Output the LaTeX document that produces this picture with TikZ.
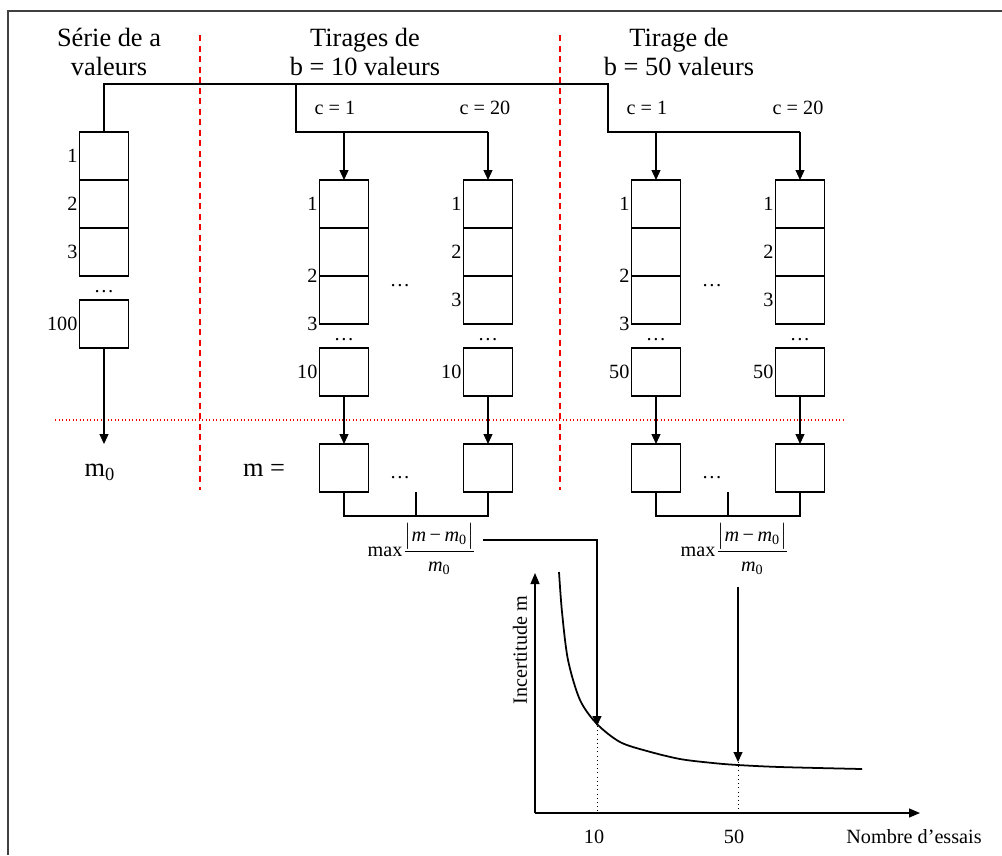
\documentclass[tikz,border=0pt]{standalone}
\usepackage{amsmath}
\usepackage{fontspec}
\setmainfont{Liberation Serif}
\usetikzlibrary{arrows.meta,positioning}
\tikzset{
  cell/.style={draw, line width=0.6pt, minimum width=9.8mm, minimum height=9.6mm,
    inner sep=0pt, outer sep=0pt},
  num/.style={font=\fontsize{11.5}{13}\selectfont, inner sep=1pt, anchor=east},
  small/.style={font=\fontsize{11.5}{13}\selectfont, inner sep=1pt},
  ttl/.style={font=\fontsize{15}{17}\selectfont, align=center},
  big/.style={font=\fontsize{15}{17}\selectfont},
  conn/.style={line width=0.6pt},
  arr/.style={conn, -{Triangle[length=2mm,width=1.8mm]}},
  sep/.style={draw=red!95!black, line width=0.9pt, dash pattern=on 1.2mm off 0.9mm},
  sepdot/.style={draw=red!95!black, line width=0.6pt, dash pattern=on 0.25mm off 0.45mm},
  guide/.style={line width=0.4pt, dotted},
  axis/.style={line width=0.7pt, -{Triangle[length=2.2mm,width=1.8mm]}},
  frame/.style={draw=black!75, line width=0.9pt}
}
\newcommand{\maxrel}{max$\dfrac{\bigl|\textit{m}\,−\,\textit{m}_{\text{0}}\bigr|}{\textit{m}_{\text{0}}}$}
\begin{document}
\begin{tikzpicture}[x=0.2mm, y=-0.2mm]
  \useasboundingbox (0,0) rectangle (1002,855);
  \draw[frame] (1002,11) -- (8,11) -- (8,855);

  % separators
  \draw[sep] (200,35) -- (200,490);
  \draw[sep] (560,35) -- (560,490);
  \draw[sepdot] (55,420) -- (845,420);

  % titles
  \node[ttl] (t0) at (109,52) {S\'erie de a\\valeurs};
  \node[ttl] (t10) at (365,52) {Tirages de\\b = 10 valeurs};
  \node[ttl] (t50) at (679,52) {Tirage de\\b = 50 valeurs};
  \node[small] (c10a) at (335,108) {c = 1};
  \node[small] (c10b) at (485,108) {c = 20};
  \node[small] (c50a) at (647,108) {c = 1};
  \node[small] (c50b) at (798,108) {c = 20};

  % serie of a values
  \node[cell] (a-1) at (104,156) {};
  \node[cell, below=0pt of a-1] (a-2) {};
  \node[cell, below=0pt of a-2] (a-3) {};
  \node[small] (a-dots) at (104,292) {\dots};
  \node[cell] (a-n) at (104,324) {};
  \node[num] at (a-1.west) {1};
  \node[num] at (a-2.west) {2};
  \node[num] at (a-3.west) {3};
  \node[num] at (a-n.west) {100};
  \coordinate (a-end) at (104,444);
  \draw[arr] (a-n.south) -- (a-end);
  \node[big] (m0) at (100,472) {m$_{\text{0}}$};

  % draws
  \foreach \nm/\x/\n/\ab in {p1/344/10/south west, p2/488/10/west,
                             q1/656/50/south west, q2/800/50/west} {
    \node[cell] (\nm-1) at (\x,204) {};
    \node[cell, below=0pt of \nm-1] (\nm-2) {};
    \node[cell, below=0pt of \nm-2] (\nm-3) {};
    \node[small] (\nm-dots) at (\x,340) {\dots};
    \node[cell] (\nm-n) at (\x,372) {};
    \node[cell] (\nm-m) at (\x,468) {};
    \node[num] at (\nm-1.west) {1};
    \node[num] at (\nm-2.\ab) {2};
    \node[num] at (\nm-3.\ab) {3};
    \node[num] at (\nm-n.west) {\n};
    \draw[arr] (\nm-n.south) -- (\nm-m.north);
  }
  \node[small] (d10) at (400,286) {\dots};
  \node[small] (d50) at (712,286) {\dots};
  \node[small] (e10) at (400,478) {\dots};
  \node[small] (e50) at (712,478) {\dots};
  \node[big] (meq) at (264,470) {m =};

  % tree
  \coordinate (top10) at (296,84);
  \coordinate (top50) at (608,84);
  \coordinate (fork10) at (296,132);
  \coordinate (fork50) at (608,132);
  \draw[conn] (a-1.north) |- (top50) -- (fork50) -- (fork50 -| q2-1.north);
  \draw[conn] (top10) -- (fork10) -- (fork10 -| p2-1.north);
  \draw[arr] (fork10 -| p1-1.north) -- (p1-1.north);
  \draw[arr] (fork10 -| p2-1.north) -- (p2-1.north);
  \draw[arr] (fork50 -| q1-1.north) -- (q1-1.north);
  \draw[arr] (fork50 -| q2-1.north) -- (q2-1.north);

  % brackets
  \coordinate (brk10) at (416,516);
  \coordinate (brk50) at (728,516);
  \draw[conn] (p1-m.south) |- (brk10) -| (p2-m.south);
  \draw[conn] (brk10) -- (brk10 |- p1-m.south);
  \draw[conn] (q1-m.south) |- (brk50) -| (q2-m.south);
  \draw[conn] (brk50) -- (brk50 |- q1-m.south);
  \node[small] (f10) at (422,549) {\maxrel};
  \node[small] (f50) at (735,549) {\maxrel};

  % graph
  \coordinate (O) at (535,813);
  \coordinate (xend) at (920,813);
  \coordinate (yend) at (535,573);
  \draw[axis] (O) -- (xend);
  \draw[axis] (O) -- (yend);
  \draw[line width=1pt] plot[smooth] coordinates {(559,572) (562,612) (568,660)
    (580,700) (597,724) (620,742) (647,751) (680,759) (713,763) (738,765)
    (780,767) (862,769)};
  \node[small, rotate=90] (ylab) at (520,650) {Incertitude m};
  \node[small] (x10) at (594,837) {10};
  \node[small] (x50) at (734,837) {50};
  \node[small] (xlab) at (914,837) {Nombre d’essais};

  \coordinate (o10) at (483,540);
  \coordinate (hit10) at (597,726);
  \coordinate (o50) at (738,587);
  \coordinate (hit50) at (738,762);
  \draw[arr] (o10) -| (hit10);
  \draw[arr] (o50) -- (hit50);
  \draw[guide] (hit10) -- (hit10 |- O);
  \draw[guide] (hit50) -- (hit50 |- O);
\end{tikzpicture}
\end{document}
